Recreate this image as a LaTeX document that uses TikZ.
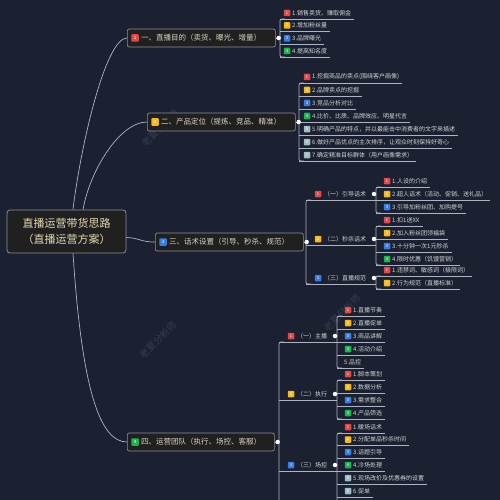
\documentclass[tikz,border=0pt]{standalone}
\usepackage{fontspec}
\setmainfont{Noto Sans CJK SC}
\definecolor{bg}{RGB}{27,33,48}
\definecolor{boxfill}{RGB}{32,32,32}
\definecolor{boxdraw}{RGB}{140,145,150}
\definecolor{ln}{RGB}{172,180,198}
\definecolor{txt}{RGB}{212,212,212}
\definecolor{maintxt}{RGB}{218,212,196}
\definecolor{roottxt}{RGB}{228,218,178}
\definecolor{bred}{RGB}{225,72,72}
\definecolor{byel}{RGB}{245,185,30}
\definecolor{bblu}{RGB}{58,125,225}
\definecolor{bgrn}{RGB}{30,180,80}
\definecolor{bgry}{RGB}{160,188,198}
\definecolor{wm}{RGB}{52,62,82}
\tikzset{
  badge/.style={fill=#1, rounded corners=0.8pt, minimum size=6.5pt, inner sep=0pt, text=white, font=\fontsize{4}{4}\selectfont},
  mbadge/.style={fill=#1, rounded corners=0.8pt, minimum size=7.5pt, inner sep=0pt, text=white, font=\fontsize{4.5}{4.5}\selectfont},
  leaf/.style={anchor=west, inner sep=0pt, text=txt, font=\fontsize{6}{7}\selectfont},
  subtext/.style={anchor=west, inner sep=0pt, text=txt, font=\fontsize{6}{7}\selectfont},
  maintext/.style={anchor=west, inner sep=0pt, text=maintxt, font=\fontsize{7.5}{9}\selectfont},
  uline/.style={draw=ln, line width=0.7pt},
  conn/.style={draw=ln, line width=0.7pt},
  mainbox/.style={draw=boxdraw, fill=boxfill, rounded corners=2pt, line width=0.7pt, minimum height=18pt, inner sep=0pt, anchor=west},
  rootbox/.style={draw=boxdraw, fill=boxfill, rounded corners=3pt, line width=0.8pt, inner sep=0pt, align=center, text=roottxt, font=\fontsize{11}{15.5}\selectfont},
  dot/.style={circle, fill=white, inner sep=0pt, minimum size=4.5pt},
  wmark/.style={text=wm, rotate=45, font=\fontsize{9.5}{10}\selectfont}
}
% leaf: name, vertical x, badge x, y, colour, number, text
\newcommand\myleaf[7]{%
  \node[badge=#5] (#1b) at (#3,#4) {#6};
  \node[leaf] (#1) at (#3+5,#4) {#7};
  \coordinate (#1e) at ([xshift=3pt]#1.east);
  \draw[uline] (#2,#4+6) -- (#1e |- #2,#4+6);
}
% leaf without badge: name, vertical x, text x, y, text
\newcommand\myleafnb[5]{%
  \node[leaf] (#1) at (#3,#4) {#5};
  \coordinate (#1e) at ([xshift=3pt]#1.east);
  \draw[uline] (#2,#4+6) -- (#1e |- #2,#4+6);
}
% sub topic: name, vertical x, badge x, y, colour, number, text, child vertical x
\newcommand\mysub[8]{%
  \node[badge=#5] (#1b) at (#3,#4) {#6};
  \node[subtext] (#1) at (#3+6,#4) {#7};
  \draw[uline] (#2,#4+6) -- (#8,#4+6);
  \node[dot] (#1d) at (#8-2,#4) {};
}
\begin{document}
\begin{tikzpicture}[x=1pt,y=-1pt]
\fill[bg] (0,0) rectangle (500,500);
\useasboundingbox (0,0) rectangle (500,500);
\clip (0,0) rectangle (500,500);

% watermarks
\node[wmark] (w1) at (160,128) {老夏分析师};
\node[wmark] (w2) at (158,340) {老夏分析师};
\node[wmark] (w3) at (342,313) {老夏分析师};

% root
\node[rootbox, minimum width=119pt, minimum height=43pt] (root) at (66.5,231.5) {直播运营带货思路\\（直播运营方案）};

% main boxes (coordinates only, drawn later)
\coordinate (m1w) at (127,38);
\coordinate (m2w) at (147,122);
\coordinate (m3w) at (155,242);
\coordinate (m4w) at (127,442);

% root connectors
\draw[conn] ([xshift=6.5pt]root.north) .. controls (80,150) and (105,38) .. (m1w);
\draw[conn] ([xshift=16.5pt]root.north) .. controls (90,170) and (120,122) .. (m2w);
\draw[conn] ([yshift=-6pt]root.east) .. controls (140,238) and (140,242) .. (m3w);
\draw[conn] ([xshift=6.5pt]root.south) .. controls (82,390) and (100,442) .. (m4w);

% main boxes
\node[mainbox, minimum width=148pt] (m1) at (m1w) {};
\node[mbadge=bred] (m1b) at ([xshift=8pt]m1.west) {1};
\node[maintext] (m1t) at ([xshift=14pt]m1.west) {一、直播目的（卖货、曝光、增量）};

\node[mainbox, minimum width=148pt] (m2) at (m2w) {};
\node[mbadge=byel] (m2b) at ([xshift=8pt]m2.west) {2};
\node[maintext] (m2t) at ([xshift=14pt]m2.west) {二、产品定位（提炼、竞品、精准）};

\node[mainbox, minimum width=148pt] (m3) at (m3w) {};
\node[mbadge=bblu] (m3b) at ([xshift=8pt]m3.west) {3};
\node[maintext] (m3t) at ([xshift=14pt]m3.west) {三、话术设置（引导、秒杀、规范）};

\node[mainbox, minimum width=147pt] (m4) at (m4w) {};
\node[mbadge=bgrn] (m4b) at ([xshift=8pt]m4.west) {4};
\node[maintext] (m4t) at ([xshift=14pt]m4.west) {四、运营团队（执行、场控、客服）};

% ---------- branch 1
\draw[conn] (m1.east) -- (280,38);
\draw[uline, rounded corners=2pt] (285,19) -- (280,19) -- (280,57) -- (285,57);
\myleaf{a1}{280}{287}{13}{bred}{1}{1.销售卖货、赚取佣金}
\myleaf{a2}{280}{287}{25.5}{byel}{2}{2.增加粉丝量}
\myleaf{a3}{280}{287}{38.5}{bblu}{3}{3.品牌曝光}
\myleaf{a4}{280}{287}{51}{bgrn}{4}{4.提高知名度}

% ---------- branch 2
\draw[conn] (m2.east) -- (299,122);
\draw[uline, rounded corners=2pt] (304,83) -- (299,83) -- (299,161) -- (304,161);
\myleaf{b1}{299}{307}{77}{bred}{1}{1.挖掘商品的卖点(围绕客户画像)}
\myleaf{b2}{299}{307}{90}{byel}{2}{2.品牌卖点的挖掘}
\myleaf{b3}{299}{307}{103}{bblu}{3}{3.竞品分析对比}
\myleaf{b4}{299}{307}{116}{bgrn}{4}{4.比价、比质、品牌效应、明星代言}
\myleaf{b5}{299}{307}{129}{bgry}{5}{5.明确产品的特点，并以最能击中消费者的文字来描述}
\myleaf{b6}{299}{307}{142}{bgry}{6}{6.做好产品优点的主次排序，让观众时刻保持好奇心}
\myleaf{b7}{299}{307}{155}{bgry}{7}{7.确定精准目标群体（用户画像需求）}

% ---------- branch 3
\draw[conn] (m3.east) -- (306,242);
\draw[uline, rounded corners=2pt] (311,200) -- (306,200) -- (306,284) -- (311,284);
\draw[uline, rounded corners=2pt] (381,187) -- (376,187) -- (376,213) -- (381,213);
\draw[uline, rounded corners=2pt] (381,226) -- (376,226) -- (376,265) -- (381,265);
\draw[uline, rounded corners=2pt] (381,276) -- (376,276) -- (376,289) -- (381,289);
\myleaf{c11}{376}{387}{181}{bred}{1}{1.人设的介绍}
\myleaf{c12}{376}{387}{194}{byel}{2}{2.超人话术（活动、促销、送礼品）}
\myleaf{c13}{376}{387}{207}{bblu}{3}{3.引导加粉丝团、加购提号}
\myleaf{c21}{376}{387}{220}{bred}{1}{1.扣1送XX}
\myleaf{c22}{376}{387}{233}{byel}{2}{2.加入粉丝团领福袋}
\myleaf{c23}{376}{387}{246}{bblu}{3}{3.十分钟一次1元秒杀}
\myleaf{c24}{376}{387}{259}{bgrn}{4}{4.限时优惠（饥饿营销）}
\myleaf{c31}{376}{387}{270}{bred}{1}{1.违禁词、敏感词（极限词）}
\myleaf{c32}{376}{387}{283}{byel}{2}{2.行为规范（直播标准）}
\mysub{c1}{306}{318}{194}{bred}{1}{（一）引导话术}{376}
\mysub{c2}{306}{318}{239}{byel}{2}{（二）秒杀话术}{376}
\mysub{c3}{306}{318}{278}{bblu}{3}{（三）直播规范}{376}

% ---------- branch 4
\draw[conn] (m4.east) -- (279,442);
\draw[uline, rounded corners=2pt] (284,342) -- (279,342) -- (279,510);
\draw[uline, rounded corners=2pt] (342,316) -- (337,316) -- (337,368) -- (342,368);
\draw[uline, rounded corners=2pt] (342,380) -- (337,380) -- (337,419) -- (342,419);
\draw[uline, rounded corners=2pt] (342,433) -- (337,433) -- (337,510);
\myleaf{d11}{337}{348}{310}{bred}{1}{1.直播节奏}
\myleaf{d12}{337}{348}{323}{byel}{2}{2.直播促单}
\myleaf{d13}{337}{348}{336}{bblu}{3}{3.商品讲解}
\myleaf{d14}{337}{348}{349}{bgrn}{4}{4.活动介绍}
\myleafnb{d15}{337}{344}{362}{5.品控}
\myleaf{d21}{337}{348}{374}{bred}{1}{1.脚本策划}
\myleaf{d22}{337}{348}{387}{byel}{2}{2.数据分析}
\myleaf{d23}{337}{348}{400}{bblu}{3}{3.需求整合}
\myleaf{d24}{337}{348}{413}{bgrn}{4}{4.产品筛选}
\myleaf{d31}{337}{348}{427}{bred}{1}{1.暖场话术}
\myleaf{d32}{337}{348}{439.5}{byel}{2}{2.分配单品秒杀时间}
\myleaf{d33}{337}{348}{452}{bblu}{3}{3.话题引导}
\myleaf{d34}{337}{348}{465}{bgrn}{4}{4.冷场处理}
\myleaf{d35}{337}{348}{478}{bgry}{5}{5.现场改价及优惠券的设置}
\myleaf{d36}{337}{348}{491}{bgry}{6}{6.促单}
\mysub{d1}{279}{291}{336}{bred}{1}{（一）主播}{337}
\mysub{d2}{279}{291}{394}{byel}{2}{（二）执行}{337}
\mysub{d3}{279}{291}{465}{bblu}{3}{（三）场控}{337}

% main dots
\node[dot] (m1d) at ([xshift=3pt]m1.east) {};
\node[dot] (m2d) at ([xshift=3pt]m2.east) {};
\node[dot] (m3d) at ([xshift=3pt]m3.east) {};
\node[dot] (m4d) at ([xshift=3pt]m4.east) {};
\end{tikzpicture}
\end{document}
